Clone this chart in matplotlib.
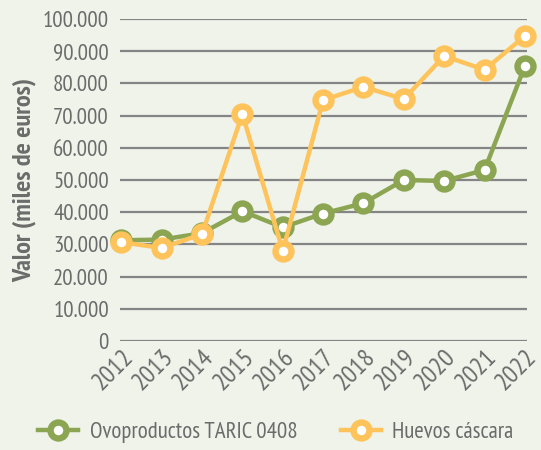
import matplotlib
matplotlib.use("Agg")
import matplotlib.pyplot as plt
from matplotlib.ticker import FuncFormatter
from matplotlib.lines import Line2D

years = ["2012", "2013", "2014", "2015", "2016", "2017", "2018", "2019", "2020", "2021", "2022"]
ovoproductos = [31300, 31500, 33500, 40300, 35300, 39600, 42800, 50000, 49700, 53100, 85400]
huevos = [30700, 28900, 33200, 70500, 28000, 74800, 78900, 75100, 88500, 84200, 94700]
series_labels = ["Ovoproductos TARIC 0408", "Huevos cáscara"]
yticks = [0, 10000, 20000, 30000, 40000, 50000, 60000, 70000, 80000, 90000, 100000]

fam = ["PT Sans Narrow", "Open Sans Condensed", "Roboto Condensed", "Asap Condensed",
       "Barlow Semi Condensed", "DejaVu Sans"]
plt.rcParams['font.family'] = fam

bg = "#eff3ea"
green = "#8ba552"
yellow = "#fec35a"
txt = "#6b6b6b"

fig = plt.figure(figsize=(5.41, 4.5), dpi=100, facecolor=bg)
ax = fig.add_axes([0.222, 0.242, 0.752, 0.716], facecolor=bg)

x = list(range(len(years)))
mk = dict(marker="o", ms=11.5, mfc="white", mew=4.6)
for vals, col, lab in [(ovoproductos, green, series_labels[0]), (huevos, yellow, series_labels[1])]:
    ax.plot(x, vals, color=col, lw=3.2, mec=col, label=lab, zorder=3, clip_on=False, **mk)

ax.set_ylim(0, 100000)
ax.set_xlim(-0.03, 10.05)
ax.set_yticks(yticks)
ax.yaxis.set_major_formatter(FuncFormatter(lambda v, p: "0" if v == 0 else f"{int(v):,}".replace(",", ".")))
ax.set_xticks(x)
ax.set_xticklabels(years, rotation=45, ha="right", va="top", rotation_mode="anchor")
ax.tick_params(axis="both", length=0, colors=txt)
ax.tick_params(axis="y", pad=8, labelsize=16.5)
ax.tick_params(axis="x", pad=3, labelsize=18.5)
ax.grid(axis="y", color="#858585", lw=1.6)
ax.set_axisbelow(True)
for s in ax.spines.values():
    s.set_visible(False)

ax.set_ylabel("Valor (miles de euros)", fontsize=19, fontweight="bold", color=txt, labelpad=5)

handles = [Line2D([0], [0], color=green, lw=3.2, mec=green, **mk),
           Line2D([0], [0], color=yellow, lw=3.2, mec=yellow, **mk)]
leg = fig.legend(handles, series_labels, loc="center", bbox_to_anchor=(0.51, 0.04), ncol=2,
                 frameon=False, fontsize=16.5, labelcolor=txt, handlelength=1.75, columnspacing=1.9,
                 handletextpad=0.5)

fig.savefig("out.png", dpi=100, facecolor=bg)
